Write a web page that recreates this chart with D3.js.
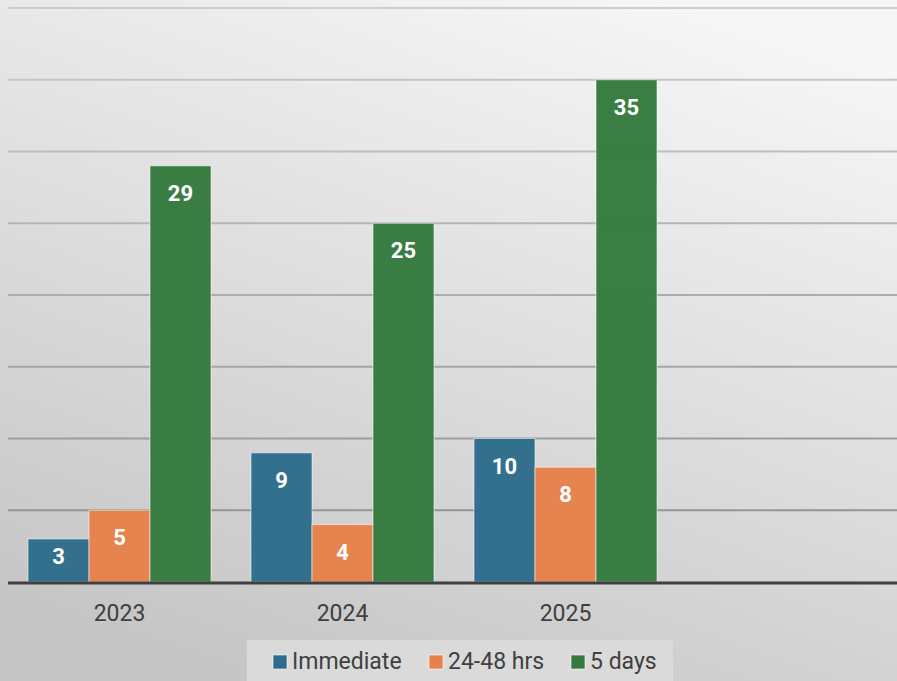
<!DOCTYPE html>
<html>
<head>
<meta charset="utf-8">
<script src="https://cdn.jsdelivr.net/npm/d3@7"></script>
<style>
  body { margin: 0; overflow: hidden; }
  svg { display: block; font-family: Roboto, "Open Sans", sans-serif; }
</style>
</head>
<body>
<svg id="chart"></svg>
<script>
var years = ['2023', '2024', '2025', ''] // last slot is empty in the original
var seriesNames = ['Immediate', '24-48 hrs', '5 days']
var immediate = [3, 9, 10]
var hrs2448 = [5, 4, 8]
var fiveDays = [29, 25, 35]
var yTicks = [5, 10, 15, 20, 25, 30, 35, 40]

var colors = ['#2d6c8a', '#e7804a', '#347a3d']
var series = [immediate, hrs2448, fiveDays]

var width = 897, height = 681
var svg = d3.select('#chart').attr('width', width).attr('height', height)

// background gradient, light top right to darker bottom
var defs = svg.append('defs')
var grad = defs.append('linearGradient').attr('id', 'bg')
  .attr('x1', 0.75).attr('y1', 0).attr('x2', 0.3).attr('y2', 1)
grad.append('stop').attr('offset', 0).attr('stop-color', '#f6f6f6')
grad.append('stop').attr('offset', 1).attr('stop-color', '#c6c6c6')
svg.append('rect').attr('width', width).attr('height', height).attr('fill', 'url(#bg)')

var x = d3.scaleBand().domain(years).range([8, 900]).paddingInner(0.1794).paddingOuter(0.0897)
var xs = d3.scaleBand().domain(d3.range(seriesNames.length)).range([0, x.bandwidth()])
var y = d3.scaleLinear().domain([0, 40]).range([582, 8])

// gridlines, get darker toward the bottom
var gridColor = d3.interpolateRgb('#8d8d8d', '#cdcdcd')
svg.append('g').selectAll('line').data(yTicks).join('line')
  .attr('x1', 8).attr('x2', width)
  .attr('y1', d => y(d)).attr('y2', d => y(d))
  .attr('stroke', d => gridColor(d / 40)).attr('stroke-width', 2)

var rows = years.slice(0, 3).map((yr, i) => ({year: yr, vals: series.map(s => s[i])}))

var groups = svg.append('g').selectAll('g').data(rows).join('g')
  .attr('transform', d => 'translate(' + x(d.year) + ',0)')

groups.selectAll('rect').data(d => d.vals).join('rect')
  .attr('x', (d, i) => xs(i))
  .attr('y', d => y(d))
  .attr('width', xs.bandwidth())
  .attr('height', d => y(0) - y(d))
  .attr('fill', (d, i) => colors[i])
  .attr('fill-opacity', 0.97)
  .attr('stroke', 'rgba(255,255,255,0.55)').attr('stroke-width', 1)

groups.selectAll('text').data(d => d.vals).join('text')
  .attr('x', (d, i) => xs(i) + xs.bandwidth() / 2)
  .attr('y', d => Math.min(y(d) + 35, y(0) - 18))
  .attr('text-anchor', 'middle')
  .attr('fill', '#fff').attr('font-weight', 'bold').attr('font-size', 22)
  .text(d => d)

// x axis
var xAxis = svg.append('g').attr('transform', 'translate(0,583)')
  .call(d3.axisBottom(x).tickSize(0).tickPadding(22))
xAxis.select('.domain').remove()
xAxis.selectAll('text').attr('font-size', 23).attr('fill', '#404040')
  .attr('font-family', 'Roboto, sans-serif')
svg.append('line').attr('x1', 8).attr('x2', width).attr('y1', 583).attr('y2', 583)
  .attr('stroke', '#404040').attr('stroke-width', 3)

// legend
var legend = svg.append('g')
legend.append('rect').attr('x', 247).attr('y', 640).attr('width', 426).attr('height', 50)
  .attr('fill', '#dadada')
var legX = [273, 429, 571]
var items = legend.selectAll('g').data(seriesNames).join('g')
  .attr('transform', (d, i) => 'translate(' + legX[i] + ',0)')
items.append('rect').attr('x', 0).attr('y', 655).attr('width', 14).attr('height', 14)
  .attr('fill', (d, i) => colors[i]).attr('stroke', 'rgba(255,255,255,0.6)')
items.append('text').attr('x', 19).attr('y', 669)
  .attr('font-size', 23).attr('fill', '#404040')
  .text(d => d)
</script>
</body>
</html>
